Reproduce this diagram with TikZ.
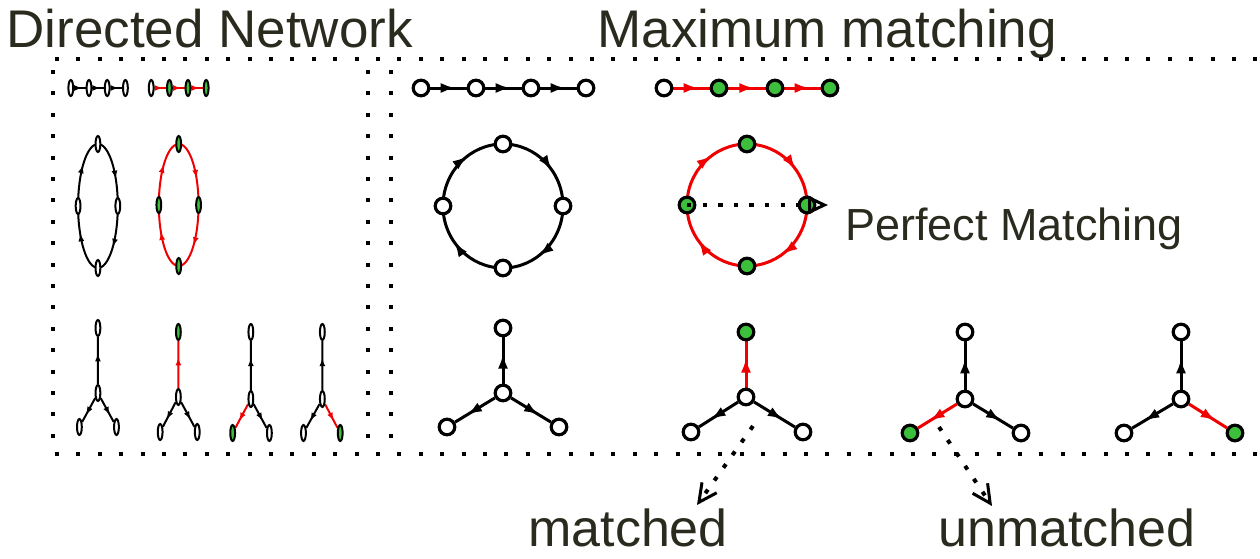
\documentclass[tikz,border=0pt]{standalone}
\usepackage{fontspec}
\setmainfont{Liberation Sans}
\usetikzlibrary{arrows.meta,shapes.geometric,decorations.markings,calc}
\pgfdeclarelayer{bg}
\pgfsetlayers{bg,main}
\definecolor{txt}{RGB}{42,42,30}
\definecolor{gfill}{RGB}{60,192,60}
\definecolor{redc}{RGB}{240,0,0}
\newcommand\mtipl{7.5pt}
\newcommand\mtipw{5pt}
\tikzset{
  lw/.style={line width=1.5pt},
  wn/.style={circle, draw=black, fill=white, line width=1.6pt, minimum size=7.8pt, inner sep=0pt},
  gn/.style={wn, fill=gfill},
  be/.style={lw, color=black, postaction={decorate},
    decoration={markings, mark=at position #1 with {\arrow{Latex[length=\mtipl,width=\mtipw]}}}},
  be/.default=0.6,
  re/.style={be=#1, color=redc},
  re/.default=0.6,
  dotbox/.style={line width=2pt, dash pattern=on 2pt off 8.7pt, black},
  darr/.style={line width=2pt, dash pattern=on 2.2pt off 5.6pt, black},
  ttl/.style={text=txt, inner sep=0pt, anchor=base west},
}
\newcommand{\mmset}[1]{%
  % chains
  \node[wn] (#1a1) at (421,88) {};
  \node[wn] (#1a2) at (476,88) {};
  \node[wn] (#1a3) at (531,88) {};
  \node[wn] (#1a4) at (586,88) {};
  \node[wn] (#1b1) at (664,88) {};
  \node[gn] (#1b2) at (719,88) {};
  \node[gn] (#1b3) at (775,88) {};
  \node[gn] (#1b4) at (830,88) {};
  % cycle 1
  \node[wn] (#1cl) at (443,206) {};
  \node[wn] (#1ct) at (503,144) {};
  \node[wn] (#1cr) at (563,206) {};
  \node[wn] (#1cb) at (503,268) {};
  % cycle 2
  \node[gn] (#1dl) at (687,205) {};
  \node[gn] (#1dt) at (747,144) {};
  \node[gn] (#1dr) at (807,205) {};
  \node[gn] (#1db) at (747,266) {};
  % stars
  \node[wn] (#1e0) at (503,393) {};
  \node[wn] (#1et) at (503,328) {};
  \node[wn] (#1el) at (447,427) {};
  \node[wn] (#1er) at (559,427) {};
  \node[wn] (#1f0) at (746,397) {};
  \node[gn] (#1ft) at (746,332) {};
  \node[wn] (#1fl) at (691,432) {};
  \node[wn] (#1fr) at (803,432) {};
  \node[wn] (#1g0) at (965,399) {};
  \node[wn] (#1gt) at (965,332) {};
  \node[gn] (#1gl) at (910,433) {};
  \node[wn] (#1gr) at (1021,433) {};
  \node[wn] (#1h0) at (1181,399) {};
  \node[wn] (#1ht) at (1181,332) {};
  \node[wn] (#1hl) at (1124,433) {};
  \node[gn] (#1hr) at (1235,433) {};
  \begin{pgfonlayer}{bg}
    \draw[be=0.7] (#1a1) -- (#1a2);
    \draw[be=0.7] (#1a2) -- (#1a3);
    \draw[be=0.7] (#1a3) -- (#1a4);
    \draw[re=0.7] (#1b1) -- (#1b2);
    \draw[re=0.7] (#1b2) -- (#1b3);
    \draw[re=0.7] (#1b3) -- (#1b4);
    \draw[be] (#1cl.center) arc[start angle=180,end angle=270,x radius=60,y radius=62];
    \draw[be] (#1ct.center) arc[start angle=270,end angle=360,x radius=60,y radius=62];
    \draw[be] (#1cr.center) arc[start angle=0,end angle=90,x radius=60,y radius=62];
    \draw[be] (#1cb.center) arc[start angle=90,end angle=180,x radius=60,y radius=62];
    \draw[re] (#1dl.center) arc[start angle=180,end angle=270,x radius=60,y radius=61];
    \draw[re] (#1dt.center) arc[start angle=270,end angle=360,x radius=60,y radius=61];
    \draw[re] (#1dr.center) arc[start angle=0,end angle=90,x radius=60,y radius=61];
    \draw[re] (#1db.center) arc[start angle=90,end angle=180,x radius=60,y radius=61];
    \draw[be=0.65] (#1e0) -- (#1et);
    \draw[be=0.7] (#1e0) -- (#1el);
    \draw[be=0.7] (#1e0) -- (#1er);
    \draw[re=0.65] (#1f0) -- (#1ft);
    \draw[be=0.7] (#1f0) -- (#1fl);
    \draw[be=0.7] (#1f0) -- (#1fr);
    \draw[be=0.65] (#1g0) -- (#1gt);
    \draw[re=0.7] (#1g0) -- (#1gl);
    \draw[be=0.7] (#1g0) -- (#1gr);
    \draw[be=0.65] (#1h0) -- (#1ht);
    \draw[be=0.7] (#1h0) -- (#1hl);
    \draw[re=0.7] (#1h0) -- (#1hr);
  \end{pgfonlayer}
}
\begin{document}
\begin{tikzpicture}[x=0.5pt,y=-0.5pt]
\useasboundingbox (0,0) rectangle (1260,558);
% titles
\node[ttl, font=\fontsize{26.5pt}{30pt}\selectfont] (title1) at (6,47) {Directed Network};
\node[ttl, font=\fontsize{26.5pt}{30pt}\selectfont] (title2) at (597,47) {Maximum matching};
% dotted frames
\draw[dotbox] (55,59) -- (1260,59);
\draw[dotbox] (55,454) -- (1260,454);
\draw[dotbox] (53,70) -- (53,454);
\draw[dotbox] (368,70) -- (368,454);
\draw[dotbox] (391,70) -- (391,454);
% right box diagrams
\mmset{R}
% left box diagrams (compressed copies)
\begin{scope}[xshift=-34.275pt, xscale=0.331,
  lw/.style={line width=1pt},
  wn/.style={ellipse, draw=black, fill=white, line width=1pt, minimum width=2.4pt, minimum height=8pt, inner sep=0pt}]
  \renewcommand\mtipl{4pt}
  \renewcommand\mtipw{3pt}
  \mmset{L}
\end{scope}
% annotations
\coordinate (pmend) at ($(Rdr)+(21,0)$);
\draw[darr, -{Triangle[open,length=10pt,width=9pt,line width=1.5pt]}] (Rdl.center) -- (pmend);
\node[ttl, font=\fontsize{22.5pt}{26pt}\selectfont] (pm) at (845,240) {Perfect Matching};
\coordinate (m0) at (753,426);
\coordinate (m1) at (697,505);
\coordinate (u0) at (939,427);
\coordinate (u1) at (992,506);
\draw[darr, -{Straight Barb[length=9pt,width=9pt,line width=1.5pt]}] (m0) -- (m1);
\draw[darr, -{Straight Barb[length=9pt,width=9pt,line width=1.5pt]}] (u0) -- (u1);
\node[ttl, font=\fontsize{26pt}{30pt}\selectfont] (lm) at (528,546) {matched};
\node[ttl, font=\fontsize{26pt}{30pt}\selectfont] (lu) at (938,546) {unmatched};
\end{tikzpicture}
\end{document}
